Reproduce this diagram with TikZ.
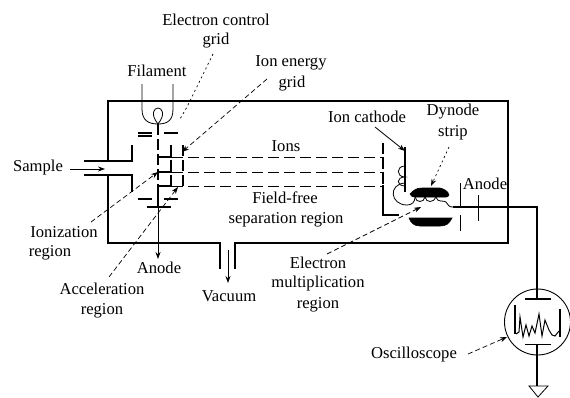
\documentclass[tikz,border=0pt]{standalone}
\usepackage{fontspec}
\setmainfont{Liberation Serif}
\usetikzlibrary{arrows.meta}
\tikzset{
 wire/.style={line width=1.1pt,line cap=butt},
 thin wire/.style={line width=0.8pt},
 beam/.style={line width=1pt,dash pattern=on 11pt off 5pt},
 grid line/.style={line width=1.3pt,dash pattern=on 11pt off 4pt},
 leader/.style={line width=0.7pt,dash pattern=on 5pt off 3pt},
 dotleader/.style={line width=0.7pt,dash pattern=on 2pt off 3pt},
 tip/.style={-{Stealth[length=7pt,width=5pt]}},
 lab/.style={font=\fontsize{16.6}{19}\selectfont,inner sep=0pt,align=center},
 dyn/.style={fill=black,draw=black,line width=0.6pt},
}
\begin{document}
\begin{tikzpicture}[x=1pt,y=-1pt]
\useasboundingbox (0,0) rectangle (570,397);
% labels
\node[lab] (ecg) at (216,20) {Electron control};
\node[lab] (ecg2) at (216,41) {grid};
\node[lab] (fil) at (157,71) {Filament};
\node[lab] (ieg) at (291,63) {Ion energy};
\node[lab] (ieg2) at (292,84) {grid};
\node[lab] (ions) at (286,146) {Ions};
\node[lab] (sam) at (38,168) {Sample};
\node[lab] (ff) at (285,198) {Field-free};
\node[lab] (sep) at (286,220) {separation region};
\node[lab] (ion1) at (64,232) {Ionization};
\node[lab] (ion2) at (50,253) {region};
\node[lab] (an1) at (159,268) {Anode};
\node[lab] (acc1) at (102,289) {Acceleration};
\node[lab] (acc2) at (102,311) {region};
\node[lab] (vac) at (229,296) {Vacuum};
\node[lab] (em1) at (318,263) {Electron};
\node[lab] (em2) at (318,284) {multiplication};
\node[lab] (em3) at (318,305) {region};
\node[lab] (ic) at (367,117) {Ion cathode};
\node[lab] (dy1) at (453,112) {Dynode};
\node[lab] (dy2) at (453,133) {strip};
\node[lab] (an2) at (485,184) {Anode};
\node[lab] (osc) at (414,355) {Oscilloscope};
% housing
\draw[wire] (84,161) -- (108,161) -- (108,101) -- (508,101) -- (508,243) -- (235,243) -- (235,269);
\draw[wire] (84,175) -- (108,175) -- (108,243) -- (220,243) -- (220,269);
\draw[wire] (108,161) -- (132,161) -- (132,145);
\draw[wire] (108,175) -- (132,175) -- (132,192);
% sample & vacuum arrows
\coordinate (sa) at (105,169);
\draw[thin wire,tip] (sam.east) ++(7,1) -- (sa);
\coordinate (va) at (228,250);
\draw[thin wire,tip] (va) -- (228,283);
% filament
\draw[thin wire] (142,84) -- (142,109) .. controls (142,120) and (148,124) .. (158,124)
  .. controls (168,124) and (173,120) .. (173,109) -- (173,84);
\draw[thin wire] (158,124) .. controls (150,114) and (154,108) .. (158,108) .. controls (162,108) and (166,114) .. (158,124);
% central column
\draw[grid line] (158,124) -- (158,190);
\draw[wire] (158,190) -- (158,207);
\draw[thin wire,tip] (158,207) -- (158,259);
% plates
\draw[wire] (138,133) -- (152,133) (138,136) -- (152,136) (164,133) -- (178,133);
\draw[wire] (138,199) -- (152,199) (164,199) -- (178,199);
\draw[wire,line width=1.6pt] (147,207) -- (171,207);
% beams
\draw[wire] (158,157) -- (172,157) (158,172) -- (172,172) (158,186) -- (172,186);
\foreach \y in {157,172,186} \draw[beam] (172,\y) -- (384,\y);
% grids
\draw[grid line] (171,145) -- (171,186);
\draw[grid line] (183,145) -- (183,186);
% ion cathode assembly
\draw[grid line] (383,143) -- (383,185);
\draw[wire] (383,185) -- (383,215) -- (399,215);
\draw[wire] (405,147) -- (405,192);
\draw[thin wire] (405,166) .. controls (396,166) and (396,177) .. (405,177)
  .. controls (396,177) and (396,186) .. (405,186);
\draw[thin wire] (405,183) .. controls (388,184) and (390,205) .. (407,205) .. controls (412,205) and (415,202) .. (415,197);
% dynodes
\draw[dyn] (410,194) .. controls (414,190) and (416,188) .. (422,188) -- (440,188) .. controls (444,189) and (448,191) .. (449,195) .. controls (448,198) and (444,197) .. (440,197) -- (416,197) .. controls (413,197) and (411,197) .. (410,194) -- cycle;
\draw[dyn] (409,218) -- (452,218) .. controls (449,224) and (446,226) .. (440,226) -- (420,226) .. controls (414,226) and (411,223) .. (409,218) -- cycle;
\draw[thin wire] (415,197) .. controls (416,203) and (424,203) .. (425,197) .. controls (426,203) and (434,203) .. (436,197) .. controls (437,203) and (444,200) .. (446,202) .. controls (449,206) and (449,207) .. (453,207);
% anode and output wire
\draw[thin wire] (460,183) -- (460,208) (460,215) -- (460,231);
\draw[thin wire] (478,195) -- (478,221);
\coordinate (sc) at (537.5,322);
\draw[wire] (453,207) -- (537,207) -- (537,289);
% oscilloscope
\node[circle,draw,line width=0.9pt,minimum size=66pt,inner sep=0pt] (scope) at (sc) {};
\draw[wire] (525,299) -- (551,299);
\draw[thin wire] (525,344) -- (551,344);
\draw[wire] (537,289) -- (537,299);
\draw[wire] (537,344) -- (537,386);
\draw[thin wire] (529,386) -- (548,386) -- (538,397) -- cycle;
\draw[wire] (515,305) -- (515,334);
\draw[wire] (560,309) -- (560,337);
\draw[line width=1pt] (516,334) -- (519,332) -- (520,317) -- (523,337) -- (526,325) -- (529,336) -- (532,326) -- (535,333) -- (539,314) -- (542,336) -- (545,320) -- (549,330) -- (552,335) -- (555,336) -- (559,331);
% leaders
\draw[dotleader] (213,54) -- (187,107) -- (180,119);
\draw[leader,tip] (267,79) -- (182,152);
\draw[leader,tip] (91,222) -- (158,172);
\draw[leader,tip] (109,277) -- (178,187);
\draw[leader,tip] (327,254) -- (421,207);
\draw[dotleader,tip] (449,147) -- (431,186);
\draw[thin wire,tip] (375,127) -- (405,151);
\draw[leader,tip] (468,354) -- (507,337);
\end{tikzpicture}
\end{document}
